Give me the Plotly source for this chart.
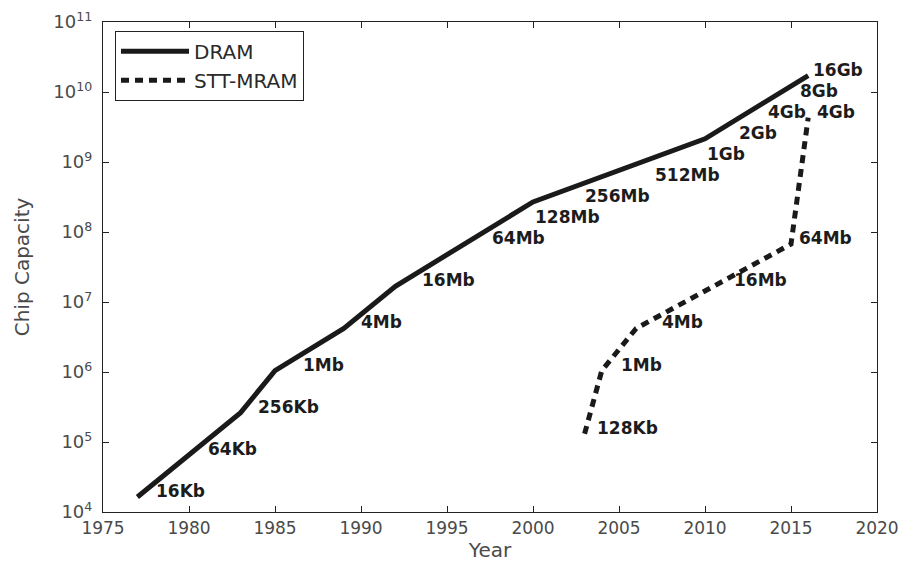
import plotly.graph_objects as go
import math

# DRAM line (year, capacity in bits)
dram_years = [1977, 1983, 1985, 1989, 1992, 2000, 2010, 2016]
dram_caps = [2**14, 2**18, 2**20, 2**22, 2**24, 2**28, 2**31, 2**34]

# STT-MRAM line
stt_years = [2003, 2004, 2006, 2015, 2016]
stt_caps = [2**17, 2**20, 2**22, 2**26, 2**32]

# Data labels: text, x position (year), capacity
dram_label_text = ["16Kb", "64Kb", "256Kb", "1Mb", "4Mb", "16Mb", "64Mb", "128Mb",
                   "256Mb", "512Mb", "1Gb", "2Gb", "4Gb", "8Gb", "16Gb"]
dram_label_x = [1978.1, 1981.1, 1984.0, 1986.6, 1990.0, 1993.55, 1997.6, 2000.1,
                2003.05, 2007.07, 2010.1, 2012.0, 2013.65, 2015.5, 2016.27]
dram_label_cap = [2**14, 2**16, 2**18, 2**20, 2**22, 2**24, 2**26, 2**27,
                  2**28, 2**29, 2**30, 2**31, 2**32, 2**33, 2**34]

stt_label_text = ["128Kb", "1Mb", "4Mb", "16Mb", "64Mb", "4Gb"]
stt_label_x = [2003.7, 2005.1, 2007.5, 2011.7, 2015.45, 2016.5]
stt_label_cap = [2**17, 2**20, 2**22, 2**24, 2**26, 2**32]

x_ticks = [1975, 1980, 1985, 1990, 1995, 2000, 2005, 2010, 2015, 2020]
y_exponents = [4, 5, 6, 7, 8, 9, 10, 11]

LINE = "#1a1a1a"
TXT = "#1c1c1c"
TICK = "#4a4a4a"
AX = "#222"

fig = go.Figure()
fig.add_trace(go.Scatter(x=dram_years, y=dram_caps, mode="lines", name="DRAM",
                         line=dict(color=LINE, width=5)))
fig.add_trace(go.Scatter(x=stt_years, y=stt_caps, mode="lines", name="STT-MRAM",
                         line=dict(color=LINE, width=5, dash="8px,6px")))

annots = []
for t, x, c in list(zip(dram_label_text, dram_label_x, dram_label_cap)) + \
        list(zip(stt_label_text, stt_label_x, stt_label_cap)):
    annots.append(dict(x=x, y=math.log10(c), xref="x", yref="y", text=t,
                       showarrow=False, xanchor="left", yanchor="bottom",
                       xshift=-2, yshift=-6,
                       font=dict(family="DejaVu Sans", size=17, color=TXT,
                                 weight="bold")))

# minor log ticks (2..9 per decade) on left and right frame
shapes = []
tick_frac = 3.5 / 774
for d in y_exponents[:-1]:
    for m in range(2, 10):
        yv = math.log10(m) + d
        shapes.append(dict(type="line", xref="paper", yref="y", x0=0, x1=tick_frac,
                           y0=yv, y1=yv, line=dict(color=AX, width=1)))
        shapes.append(dict(type="line", xref="paper", yref="y", x0=1 - tick_frac, x1=1,
                           y0=yv, y1=yv, line=dict(color=AX, width=1)))

fig.update_layout(
    width=905, height=563,
    margin=dict(l=103, r=28, t=22, b=51, autoexpand=False),
    paper_bgcolor="white", plot_bgcolor="white",
    showlegend=True,
    legend=dict(x=0.0155, y=0.982, xanchor="left", yanchor="top",
                bgcolor="white", bordercolor=AX, borderwidth=1,
                font=dict(family="DejaVu Sans", size=20, color="#2a2a2a"),
                itemwidth=68),
    annotations=annots,
    shapes=shapes,
    font=dict(family="DejaVu Sans"),
)

fig.update_xaxes(range=[1975, 2020], tickvals=x_ticks, ticks="inside", ticklen=6,
                 tickwidth=1, tickcolor=AX, showline=True, linecolor=AX,
                 linewidth=1.2, mirror="allticks", showgrid=False, zeroline=False,
                 automargin=False,
                 tickfont=dict(size=17, color=TICK),
                 title=dict(text="Year", font=dict(size=20, color=TICK), standoff=6))
fig.update_yaxes(type="log", range=[4, 11],
                 tickvals=[10**e for e in y_exponents],
                 ticktext=[f"10<sup>{e}</sup>" for e in y_exponents],
                 ticks="inside", ticklen=6, tickwidth=1, tickcolor=AX,
                 showline=True, linecolor=AX, linewidth=1.2, mirror="allticks",
                 showgrid=False, zeroline=False, ticklabelstandoff=6,
                 automargin=False,
                 tickfont=dict(size=18, color=TICK),
                 title=dict(text="Chip Capacity", font=dict(size=20, color=TICK),
                            standoff=18))

fig.write_html("out.html")
